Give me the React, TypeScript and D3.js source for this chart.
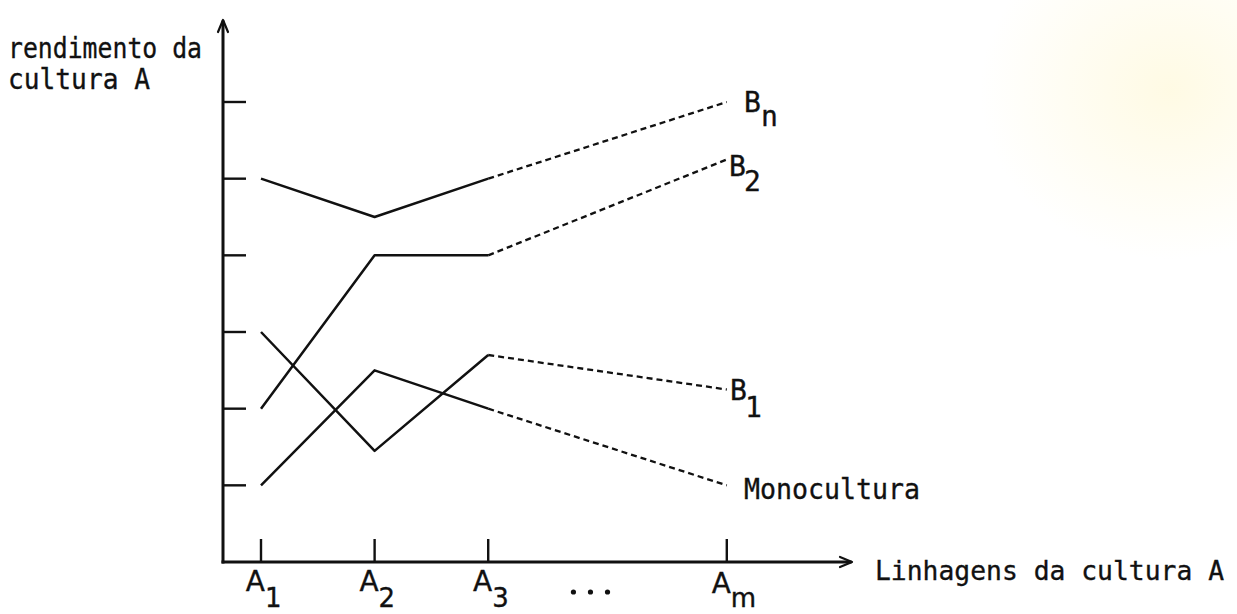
import React from "react";
import * as d3 from "d3";

// Lines of crop A (x axis) and their yield under each companion crop
const lineages = ["1", "2", "3", "m"];
const lineageRank = [1, 2, 3, 5.1];
const yTicks = [1, 2, 3, 4, 5, 6];

const seriesNames = ["B_n", "B_2", "B_1", "Monocultura"];
const yieldBn = [5, 4.5, 5, 6];
const yieldB2 = [2, 4, 4, 5.25];
const yieldB1 = [3, 1.45, 2.7, 2.25];
const yieldMono = [1, 2.5, 2, 1];

const ellipsisRanks = [3.75, 3.9, 4.05];

const W = 1237;
const H = 614;
const MONO = "'DejaVu Sans Mono', 'Liberation Mono', monospace";
const SANS = "'DejaVu Sans', sans-serif";
const INK = "#111";

export default function App() {
  const x = d3.scaleLinear().domain([1, 5.1]).range([261, 726.8]);
  const y = d3.scaleLinear().domain([0, 6]).range([562, 102]);

  const axisX0 = 223;
  const axisY0 = 562;
  const axisXEnd = 852;
  const axisYTop = 20;

  const series = [
    { name: seriesNames[0], values: yieldBn },
    { name: seriesNames[1], values: yieldB2 },
    { name: seriesNames[2], values: yieldB1 },
    { name: seriesNames[3], values: yieldMono },
  ];

  const line = d3
    .line<[number, number]>()
    .x((d) => x(d[0]))
    .y((d) => y(d[1]));

  const pts = (v: number[]) => v.map((val, i) => [lineageRank[i], val] as [number, number]);

  const textInk = { fill: INK, stroke: INK, strokeWidth: 0.35 };

  return (
    <div style={{ position: "absolute", left: 0, top: 0 }}>
      <svg width={W} height={H} viewBox={`0 0 ${W} ${H}`} style={{ display: "block" }}>
        <defs>
          <radialGradient id="tint" cx="0.5" cy="0.5" r="0.5">
            <stop offset="0%" stopColor="#fff6c9" stopOpacity={0.5} />
            <stop offset="100%" stopColor="#fff6c9" stopOpacity={0} />
          </radialGradient>
        </defs>
        <rect width={W} height={H} fill="#ffffff" />
        <ellipse cx={1170} cy={90} rx={190} ry={170} fill="url(#tint)" />

        {/* axes */}
        <g stroke={INK} strokeWidth={3} fill="none" strokeLinecap="square">
          <line x1={axisX0} y1={axisYTop + 2} x2={axisX0} y2={axisY0} />
          <line x1={axisX0} y1={axisY0} x2={axisXEnd - 2} y2={axisY0} />
        </g>
        <g stroke={INK} strokeWidth={2.2} fill="none" strokeLinecap="round" strokeLinejoin="round">
          <path d={`M${axisX0 - 5},${axisYTop + 12} L${axisX0},${axisYTop} L${axisX0 + 5},${axisYTop + 12}`} />
          <path d={`M${axisXEnd - 12},${axisY0 - 5} L${axisXEnd},${axisY0} L${axisXEnd - 12},${axisY0 + 5}`} />
        </g>

        {/* y ticks */}
        <g stroke={INK} strokeWidth={2.4}>
          {yTicks.map((t) => (
            <line key={t} x1={axisX0} x2={axisX0 + 23} y1={y(t)} y2={y(t)} />
          ))}
        </g>
        {/* x ticks */}
        <g stroke={INK} strokeWidth={2.4}>
          {lineageRank.map((r) => (
            <line key={r} x1={x(r)} x2={x(r)} y1={axisY0 - 23} y2={axisY0} />
          ))}
        </g>

        {/* series: solid over observed lineages, dashed on to A_m */}
        <g fill="none" stroke={INK} strokeWidth={2.5} strokeLinejoin="round">
          {series.map((s) => {
            const p = pts(s.values);
            return (
              <g key={s.name}>
                <path d={line(p.slice(0, 3)) || ""} />
                <path d={line(p.slice(2)) || ""} strokeDasharray="6 4" strokeWidth={2.3} />
              </g>
            );
          })}
        </g>

        {/* x tick labels */}
        <g {...textInk} fontFamily={SANS} fontSize={28}>
          {lineages.map((l, i) => {
            const cx = x(lineageRank[i]);
            return (
              <g key={l}>
                <text x={cx + 4} y={i === 3 ? 593 : 591} textAnchor="end">A</text>
                <text x={cx + 4} y={607} fontSize={26}>{l}</text>
              </g>
            );
          })}
        </g>
        <g fill={INK}>
          {ellipsisRanks.map((r) => (
            <circle key={r} cx={x(r)} cy={592} r={2.6} />
          ))}
        </g>

        {/* series labels */}
        <g {...textInk} fontFamily={MONO} fontSize={28}>
          <text x={744} y={112}>B</text>
          <text x={761} y={126}>n</text>
          <text x={729} y={176}>B</text>
          <text x={744} y={191}>2</text>
          <text x={730} y={400}>B</text>
          <text x={745} y={417}>1</text>
          <text x={744} y={499} textLength={176} lengthAdjust="spacingAndGlyphs">Monocultura</text>
        </g>

        {/* axis titles */}
        <g {...textInk} fontFamily={MONO} fontSize={28}>
          <text x={8} y={58} textLength={194} lengthAdjust="spacingAndGlyphs">rendimento da</text>
          <text x={8} y={89} textLength={142} lengthAdjust="spacingAndGlyphs">cultura A</text>
          <text x={875} y={580} fontSize={26.5} textLength={349} lengthAdjust="spacingAndGlyphs">Linhagens da cultura A</text>
        </g>
      </svg>
    </div>
  );
}
